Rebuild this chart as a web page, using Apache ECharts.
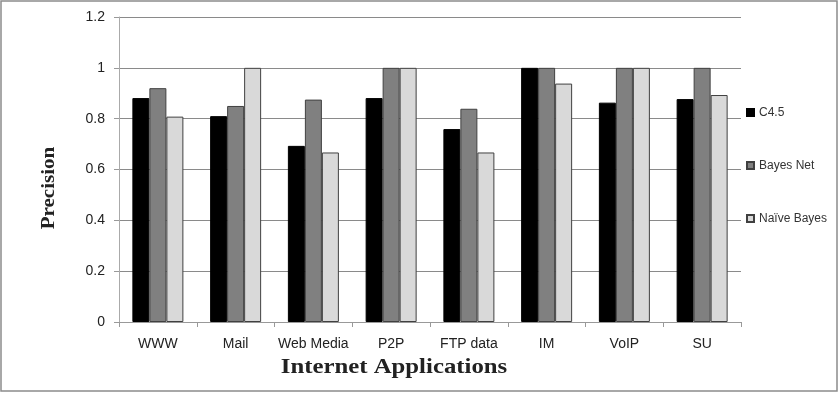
<!DOCTYPE html>
<html><head><meta charset="utf-8">
<script src="https://cdn.jsdelivr.net/npm/echarts@6/dist/echarts.min.js"></script>
<style>html,body{margin:0;padding:0;background:#fff}#c{width:839px;height:393px}</style>
</head><body><div id="c"></div>
<script>
const categories = ['WWW','Mail','Web Media','P2P','FTP data','IM','VoIP','SU'];
const c45 = [0.881,0.81,0.693,0.881,0.759,1.0,0.863,0.877];
const bayesNet = [0.92,0.85,0.875,1.0,0.839,1.0,1.0,1.0];
const naiveBayes = [0.808,1.0,0.667,1.0,0.667,0.938,1.0,0.893];
const yTicks = [0,0.2,0.4,0.6,0.8,1,1.2];
const xTitle = 'Internet Applications';
const yTitle = 'Precision';

const chart = echarts.init(document.getElementById('c'));
const lbl = {fontFamily:'Liberation Sans, Arial, sans-serif', fontSize:14, color:'#222'};
const titleFont = {fontFamily:'Liberation Serif, Times New Roman, serif',fontWeight:'bold',fill:'#222'};
chart.setOption({
  animation:false,
  graphic:[
    {type:'rect',shape:{x:1,y:1,width:836,height:390},style:{fill:'none',stroke:'#8c8c8c',lineWidth:1.5},z:-1},
    {type:'text',x:394,y:368,scaleX:1.18,style:Object.assign({text:xTitle,fontSize:21,textAlign:'center',textVerticalAlign:'middle'},titleFont)},
    {type:'text',x:49,y:188,rotation:Math.PI/2,scaleX:1.17,style:Object.assign({text:yTitle,fontSize:18,textAlign:'center',textVerticalAlign:'middle'},titleFont)}
  ],
  grid:{left:119,right:98,top:17,bottom:71},
  legend:{
    orient:'vertical',left:741,top:101,itemWidth:7,itemHeight:7,itemGap:40,icon:'rect',
    textStyle:{fontFamily:'Liberation Sans, Arial, sans-serif',fontSize:12,color:'#333',lineHeight:13},
    data:['C4.5','Bayes Net','Naïve Bayes']
  },
  xAxis:{
    type:'category',data:categories,
    axisLine:{lineStyle:{color:'#999',width:1}},
    axisTick:{show:true,length:5,lineStyle:{color:'#999'}},
    axisLabel:Object.assign({margin:15,interval:0},lbl)
  },
  yAxis:{
    type:'value',min:0,max:1.2,interval:0.2,
    axisLine:{show:true,lineStyle:{color:'#aaa'}},
    axisTick:{show:true,length:5,lineStyle:{color:'#999'}},
    splitLine:{lineStyle:{color:'#8a8a8a',width:1}},
    axisLabel:Object.assign({margin:14,formatter:v=>{const t=yTicks.find(x=>Math.abs(x-v)<1e-9);return String(t!==undefined?t:v);}},lbl)
  },
  series:[
    {name:'C4.5',type:'bar',data:c45,barWidth:17,barGap:'0%',itemStyle:{color:'#000',borderColor:'#000',borderWidth:1}},
    {name:'Bayes Net',type:'bar',data:bayesNet,barWidth:17,itemStyle:{color:'#808080',borderColor:'#404040',borderWidth:1}},
    {name:'Naïve Bayes',type:'bar',data:naiveBayes,barWidth:17,itemStyle:{color:'#d9d9d9',borderColor:'#404040',borderWidth:1}}
  ]
});
</script></body></html>
